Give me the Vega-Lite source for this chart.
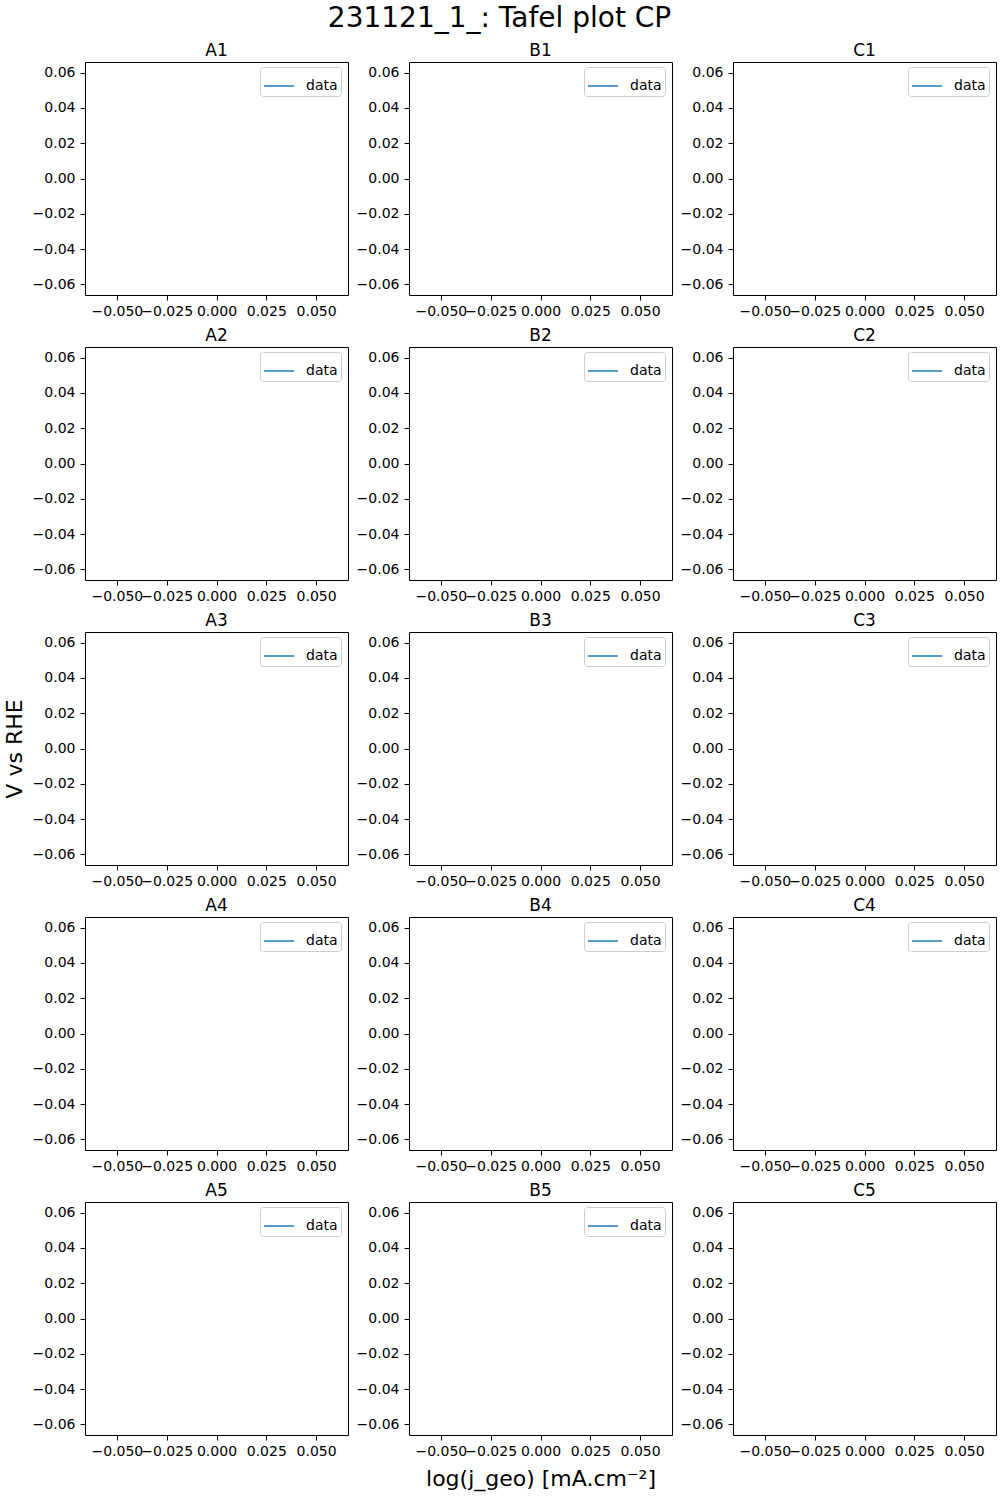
{
  "$schema": "https://vega.github.io/schema/vega-lite/v6.json",
  "background": "white",
  "padding": {"left": 2, "top": 4, "right": 4, "bottom": 2},
  "title": {"text": "231121_1_: Tafel plot CP", "fontSize": 28, "font": "DejaVu Sans", "fontWeight": "normal", "anchor": "middle", "offset": 9, "color": "black"},
  "datasets": {
    "tafel": [
      {"panel": "A1", "log_j": null, "V": null},
      {"panel": "B1", "log_j": null, "V": null},
      {"panel": "C1", "log_j": null, "V": null},
      {"panel": "A2", "log_j": null, "V": null},
      {"panel": "B2", "log_j": null, "V": null},
      {"panel": "C2", "log_j": null, "V": null},
      {"panel": "A3", "log_j": null, "V": null},
      {"panel": "B3", "log_j": null, "V": null},
      {"panel": "C3", "log_j": null, "V": null},
      {"panel": "A4", "log_j": null, "V": null},
      {"panel": "B4", "log_j": null, "V": null},
      {"panel": "C4", "log_j": null, "V": null},
      {"panel": "A5", "log_j": null, "V": null},
      {"panel": "B5", "log_j": null, "V": null},
      {"panel": "C5", "log_j": null, "V": null}
    ]
  },
  "columns": 3,
  "align": "each",
  "spacing": {"row": 7, "column": 6},
  "resolve": {"legend": {"color": "independent"}, "scale": {"color": "independent"}},
  "concat": [
    {"title": "A1", "width": 263, "height": 233, "data": {"name": "tafel"}, "transform": [{"filter": "datum.panel === 'A1'"}], "mark": {"type": "line", "strokeWidth": 1.5},
     "encoding": {"x": {"field": "log_j", "type": "quantitative", "scale": {"domain": [-0.066, 0.066], "nice": false, "zero": false}, "axis": {"values": [-0.05, -0.025, 0, 0.025, 0.05], "format": ".3f", "title": null}},
                  "y": {"field": "V", "type": "quantitative", "scale": {"domain": [-0.066, 0.066], "nice": false, "zero": false}, "axis": {"values": [-0.06, -0.04, -0.02, 0, 0.02, 0.04, 0.06], "format": ".2f", "title": null}},
                  "color": {"datum": "data", "type": "nominal", "scale": {"range": ["#1f77b4"]}}}},
    {"title": "B1", "width": 263, "height": 233, "data": {"name": "tafel"}, "transform": [{"filter": "datum.panel === 'B1'"}], "mark": {"type": "line", "strokeWidth": 1.5},
     "encoding": {"x": {"field": "log_j", "type": "quantitative", "scale": {"domain": [-0.066, 0.066], "nice": false, "zero": false}, "axis": {"values": [-0.05, -0.025, 0, 0.025, 0.05], "format": ".3f", "title": null}},
                  "y": {"field": "V", "type": "quantitative", "scale": {"domain": [-0.066, 0.066], "nice": false, "zero": false}, "axis": {"values": [-0.06, -0.04, -0.02, 0, 0.02, 0.04, 0.06], "format": ".2f", "title": null}},
                  "color": {"datum": "data", "type": "nominal", "scale": {"range": ["#1f77b4"]}}}},
    {"title": "C1", "width": 263, "height": 233, "data": {"name": "tafel"}, "transform": [{"filter": "datum.panel === 'C1'"}], "mark": {"type": "line", "strokeWidth": 1.5},
     "encoding": {"x": {"field": "log_j", "type": "quantitative", "scale": {"domain": [-0.066, 0.066], "nice": false, "zero": false}, "axis": {"values": [-0.05, -0.025, 0, 0.025, 0.05], "format": ".3f", "title": null}},
                  "y": {"field": "V", "type": "quantitative", "scale": {"domain": [-0.066, 0.066], "nice": false, "zero": false}, "axis": {"values": [-0.06, -0.04, -0.02, 0, 0.02, 0.04, 0.06], "format": ".2f", "title": null}},
                  "color": {"datum": "data", "type": "nominal", "scale": {"range": ["#1f77b4"]}}}},
    {"title": "A2", "width": 263, "height": 233, "data": {"name": "tafel"}, "transform": [{"filter": "datum.panel === 'A2'"}], "mark": {"type": "line", "strokeWidth": 1.5},
     "encoding": {"x": {"field": "log_j", "type": "quantitative", "scale": {"domain": [-0.066, 0.066], "nice": false, "zero": false}, "axis": {"values": [-0.05, -0.025, 0, 0.025, 0.05], "format": ".3f", "title": null}},
                  "y": {"field": "V", "type": "quantitative", "scale": {"domain": [-0.066, 0.066], "nice": false, "zero": false}, "axis": {"values": [-0.06, -0.04, -0.02, 0, 0.02, 0.04, 0.06], "format": ".2f", "title": null}},
                  "color": {"datum": "data", "type": "nominal", "scale": {"range": ["#1f77b4"]}}}},
    {"title": "B2", "width": 263, "height": 233, "data": {"name": "tafel"}, "transform": [{"filter": "datum.panel === 'B2'"}], "mark": {"type": "line", "strokeWidth": 1.5},
     "encoding": {"x": {"field": "log_j", "type": "quantitative", "scale": {"domain": [-0.066, 0.066], "nice": false, "zero": false}, "axis": {"values": [-0.05, -0.025, 0, 0.025, 0.05], "format": ".3f", "title": null}},
                  "y": {"field": "V", "type": "quantitative", "scale": {"domain": [-0.066, 0.066], "nice": false, "zero": false}, "axis": {"values": [-0.06, -0.04, -0.02, 0, 0.02, 0.04, 0.06], "format": ".2f", "title": null}},
                  "color": {"datum": "data", "type": "nominal", "scale": {"range": ["#1f77b4"]}}}},
    {"title": "C2", "width": 263, "height": 233, "data": {"name": "tafel"}, "transform": [{"filter": "datum.panel === 'C2'"}], "mark": {"type": "line", "strokeWidth": 1.5},
     "encoding": {"x": {"field": "log_j", "type": "quantitative", "scale": {"domain": [-0.066, 0.066], "nice": false, "zero": false}, "axis": {"values": [-0.05, -0.025, 0, 0.025, 0.05], "format": ".3f", "title": null}},
                  "y": {"field": "V", "type": "quantitative", "scale": {"domain": [-0.066, 0.066], "nice": false, "zero": false}, "axis": {"values": [-0.06, -0.04, -0.02, 0, 0.02, 0.04, 0.06], "format": ".2f", "title": null}},
                  "color": {"datum": "data", "type": "nominal", "scale": {"range": ["#1f77b4"]}}}},
    {"title": "A3", "width": 263, "height": 233, "data": {"name": "tafel"}, "transform": [{"filter": "datum.panel === 'A3'"}], "mark": {"type": "line", "strokeWidth": 1.5},
     "encoding": {"x": {"field": "log_j", "type": "quantitative", "scale": {"domain": [-0.066, 0.066], "nice": false, "zero": false}, "axis": {"values": [-0.05, -0.025, 0, 0.025, 0.05], "format": ".3f", "title": null}},
                  "y": {"field": "V", "type": "quantitative", "scale": {"domain": [-0.066, 0.066], "nice": false, "zero": false}, "axis": {"values": [-0.06, -0.04, -0.02, 0, 0.02, 0.04, 0.06], "format": ".2f", "title": "V vs RHE", "titleFontSize": 22, "titlePadding": 6}},
                  "color": {"datum": "data", "type": "nominal", "scale": {"range": ["#1f77b4"]}}}},
    {"title": "B3", "width": 263, "height": 233, "data": {"name": "tafel"}, "transform": [{"filter": "datum.panel === 'B3'"}], "mark": {"type": "line", "strokeWidth": 1.5},
     "encoding": {"x": {"field": "log_j", "type": "quantitative", "scale": {"domain": [-0.066, 0.066], "nice": false, "zero": false}, "axis": {"values": [-0.05, -0.025, 0, 0.025, 0.05], "format": ".3f", "title": null}},
                  "y": {"field": "V", "type": "quantitative", "scale": {"domain": [-0.066, 0.066], "nice": false, "zero": false}, "axis": {"values": [-0.06, -0.04, -0.02, 0, 0.02, 0.04, 0.06], "format": ".2f", "title": null}},
                  "color": {"datum": "data", "type": "nominal", "scale": {"range": ["#1f77b4"]}}}},
    {"title": "C3", "width": 263, "height": 233, "data": {"name": "tafel"}, "transform": [{"filter": "datum.panel === 'C3'"}], "mark": {"type": "line", "strokeWidth": 1.5},
     "encoding": {"x": {"field": "log_j", "type": "quantitative", "scale": {"domain": [-0.066, 0.066], "nice": false, "zero": false}, "axis": {"values": [-0.05, -0.025, 0, 0.025, 0.05], "format": ".3f", "title": null}},
                  "y": {"field": "V", "type": "quantitative", "scale": {"domain": [-0.066, 0.066], "nice": false, "zero": false}, "axis": {"values": [-0.06, -0.04, -0.02, 0, 0.02, 0.04, 0.06], "format": ".2f", "title": null}},
                  "color": {"datum": "data", "type": "nominal", "scale": {"range": ["#1f77b4"]}}}},
    {"title": "A4", "width": 263, "height": 233, "data": {"name": "tafel"}, "transform": [{"filter": "datum.panel === 'A4'"}], "mark": {"type": "line", "strokeWidth": 1.5},
     "encoding": {"x": {"field": "log_j", "type": "quantitative", "scale": {"domain": [-0.066, 0.066], "nice": false, "zero": false}, "axis": {"values": [-0.05, -0.025, 0, 0.025, 0.05], "format": ".3f", "title": null}},
                  "y": {"field": "V", "type": "quantitative", "scale": {"domain": [-0.066, 0.066], "nice": false, "zero": false}, "axis": {"values": [-0.06, -0.04, -0.02, 0, 0.02, 0.04, 0.06], "format": ".2f", "title": null}},
                  "color": {"datum": "data", "type": "nominal", "scale": {"range": ["#1f77b4"]}}}},
    {"title": "B4", "width": 263, "height": 233, "data": {"name": "tafel"}, "transform": [{"filter": "datum.panel === 'B4'"}], "mark": {"type": "line", "strokeWidth": 1.5},
     "encoding": {"x": {"field": "log_j", "type": "quantitative", "scale": {"domain": [-0.066, 0.066], "nice": false, "zero": false}, "axis": {"values": [-0.05, -0.025, 0, 0.025, 0.05], "format": ".3f", "title": null}},
                  "y": {"field": "V", "type": "quantitative", "scale": {"domain": [-0.066, 0.066], "nice": false, "zero": false}, "axis": {"values": [-0.06, -0.04, -0.02, 0, 0.02, 0.04, 0.06], "format": ".2f", "title": null}},
                  "color": {"datum": "data", "type": "nominal", "scale": {"range": ["#1f77b4"]}}}},
    {"title": "C4", "width": 263, "height": 233, "data": {"name": "tafel"}, "transform": [{"filter": "datum.panel === 'C4'"}], "mark": {"type": "line", "strokeWidth": 1.5},
     "encoding": {"x": {"field": "log_j", "type": "quantitative", "scale": {"domain": [-0.066, 0.066], "nice": false, "zero": false}, "axis": {"values": [-0.05, -0.025, 0, 0.025, 0.05], "format": ".3f", "title": null}},
                  "y": {"field": "V", "type": "quantitative", "scale": {"domain": [-0.066, 0.066], "nice": false, "zero": false}, "axis": {"values": [-0.06, -0.04, -0.02, 0, 0.02, 0.04, 0.06], "format": ".2f", "title": null}},
                  "color": {"datum": "data", "type": "nominal", "scale": {"range": ["#1f77b4"]}}}},
    {"title": "A5", "width": 263, "height": 233, "data": {"name": "tafel"}, "transform": [{"filter": "datum.panel === 'A5'"}], "mark": {"type": "line", "strokeWidth": 1.5},
     "encoding": {"x": {"field": "log_j", "type": "quantitative", "scale": {"domain": [-0.066, 0.066], "nice": false, "zero": false}, "axis": {"values": [-0.05, -0.025, 0, 0.025, 0.05], "format": ".3f", "title": null}},
                  "y": {"field": "V", "type": "quantitative", "scale": {"domain": [-0.066, 0.066], "nice": false, "zero": false}, "axis": {"values": [-0.06, -0.04, -0.02, 0, 0.02, 0.04, 0.06], "format": ".2f", "title": null}},
                  "color": {"datum": "data", "type": "nominal", "scale": {"range": ["#1f77b4"]}}}},
    {"title": "B5", "width": 263, "height": 233, "data": {"name": "tafel"}, "transform": [{"filter": "datum.panel === 'B5'"}], "mark": {"type": "line", "strokeWidth": 1.5},
     "encoding": {"x": {"field": "log_j", "type": "quantitative", "scale": {"domain": [-0.066, 0.066], "nice": false, "zero": false}, "axis": {"values": [-0.05, -0.025, 0, 0.025, 0.05], "format": ".3f", "title": "log(j_geo) [mA.cm⁻²]", "titleFontSize": 22, "titlePadding": 10}},
                  "y": {"field": "V", "type": "quantitative", "scale": {"domain": [-0.066, 0.066], "nice": false, "zero": false}, "axis": {"values": [-0.06, -0.04, -0.02, 0, 0.02, 0.04, 0.06], "format": ".2f", "title": null}},
                  "color": {"datum": "data", "type": "nominal", "scale": {"range": ["#1f77b4"]}}}},
    {"title": "C5", "width": 263, "height": 233, "data": {"name": "tafel"}, "transform": [{"filter": "datum.panel === 'C5'"}], "mark": {"type": "line", "strokeWidth": 1.5, "color": "#1f77b4"},
     "encoding": {"x": {"field": "log_j", "type": "quantitative", "scale": {"domain": [-0.066, 0.066], "nice": false, "zero": false}, "axis": {"values": [-0.05, -0.025, 0, 0.025, 0.05], "format": ".3f", "title": null}},
                  "y": {"field": "V", "type": "quantitative", "scale": {"domain": [-0.066, 0.066], "nice": false, "zero": false}, "axis": {"values": [-0.06, -0.04, -0.02, 0, 0.02, 0.04, 0.06], "format": ".2f", "title": null}}}}
  ],
  "config": {
    "font": "DejaVu Sans",
    "view": {"stroke": "black", "strokeWidth": 1},
    "title": {"fontSize": 17, "fontWeight": "normal", "font": "DejaVu Sans", "color": "black", "offset": 2},
    "axis": {"domain": false, "grid": false, "ticks": true, "tickSize": 5, "tickColor": "black", "tickWidth": 1, "labelFont": "DejaVu Sans", "labelFontSize": 14, "labelColor": "black", "labelPadding": 5, "titleFont": "DejaVu Sans", "titleFontWeight": "normal", "titleColor": "black", "labelOverlap": false, "labelBound": false, "labelFlush": false},
    "axisX": {"labelPadding": 4},
    "legend": {"orient": "none", "legendX": 175, "legendY": 5, "title": null, "symbolType": "stroke", "symbolSize": 900, "symbolStrokeWidth": 1.5, "strokeColor": "#cccccc", "fillColor": "white", "cornerRadius": 3, "padding": 3, "labelFont": "DejaVu Sans", "labelFontSize": 14, "labelColor": "black", "labelOffset": 11}
  }
}
